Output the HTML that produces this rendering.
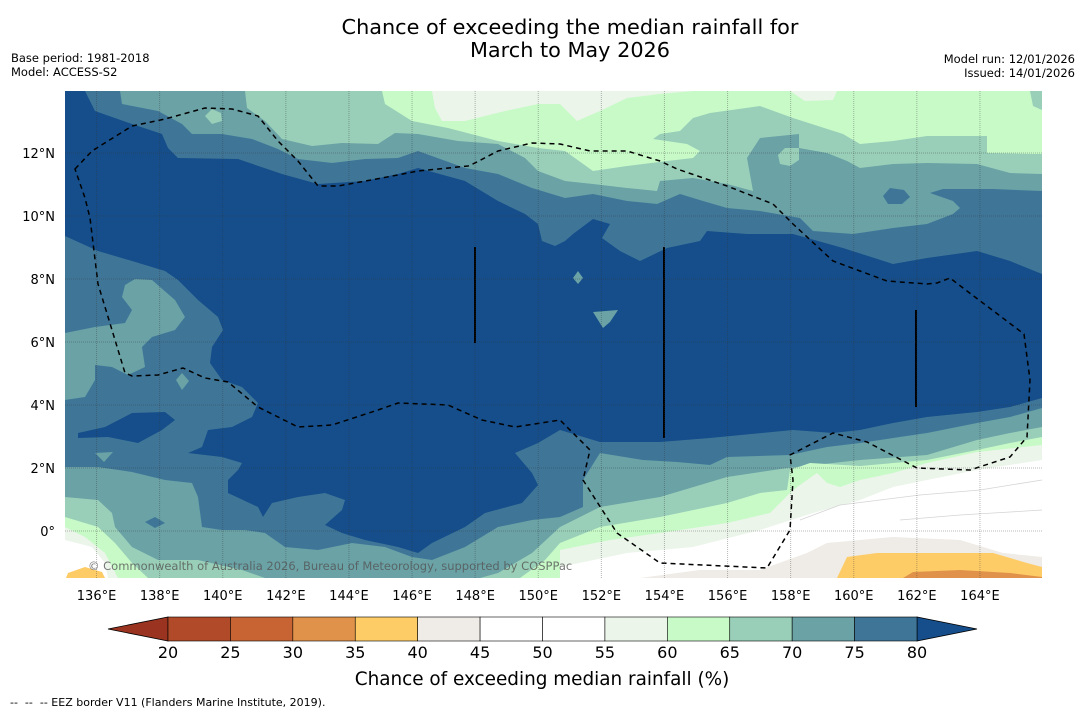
<!DOCTYPE html>
<html><head><meta charset="utf-8"><style>
html,body{margin:0;padding:0;background:#fff;}
svg{display:block;font-family:"DejaVu Sans","Liberation Sans",sans-serif;}
</style></head><body>
<svg id="s" width="1085" height="713" viewBox="0 0 1085 713">
<text x="570" y="34" text-anchor="middle" font-size="20.8">Chance of exceeding the median rainfall for</text>
<text x="570" y="57" text-anchor="middle" font-size="20.8">March to May 2026</text>
<text x="11" y="62" font-size="11.5">Base period: 1981-2018</text>
<text x="11" y="76" font-size="11.5">Model: ACCESS-S2</text>
<text x="1075" y="63" font-size="11.5" text-anchor="end">Model run: 12/01/2026</text>
<text x="1075" y="77" font-size="11.5" text-anchor="end">Issued: 14/01/2026</text>
<defs><clipPath id="mc"><rect x="65" y="91" width="977" height="487"/></clipPath></defs>
<g id="map" clip-path="url(#mc)"></g>
<g id="axes"></g>
<g id="cbar"></g>
<text x="542" y="685" text-anchor="middle" font-size="18.4">Chance of exceeding median rainfall (%)</text>
<text x="10" y="706" font-size="11" xml:space="preserve">--  --  -- EEZ border V11 (Flanders Marine Institute, 2019).</text>
</svg>
<script>
// colorbar data
const levels = [20,25,30,35,40,45,50,55,60,65,70,75,80];
const binColors = ['#b04a28','#c86434','#e0924a','#fecc66','#efebe6','#ffffff','#ffffff','#ebf5ea','#c8fac8','#99cfb8','#6aa2a6','#3f7698'];
const underColor = '#9a3420';
const overColor = '#154e8a';
// map axis ticks
const lonTicks = [136,138,140,142,144,146,148,150,152,154,156,158,160,162,164];
const latTicks = [12,10,8,6,4,2,0];
const latLabels = ['12°N','10°N','8°N','6°N','4°N','2°N','0°'];

const NS='http://www.w3.org/2000/svg';
function mk(tag,attrs,parent){const e=document.createElementNS(NS,tag);for(const k in attrs)e.setAttribute(k,attrs[k]);parent.appendChild(e);return e;}
const lonX = lon => 65 + (lon-135)*31.55;
const latY = lat => 531 - lat*31.5;
const cbX = v => 168 + (v-20)*(917-168)/60;

const map=document.getElementById('map');
const C={c80:'#154e8a',c75:'#3f7698',c70:'#6aa2a6',c65:'#99cfb8',c60:'#c8fac8',c55:'#ebf5ea',w:'#ffffff',c40:'#efebe6',c35:'#fecc66',c30:'#e0924a'};
// traced contour regions (map geometry)
const regions=[
['c80','65,91 1042,91 1042,578 65,578'],
['c75','85,91 95,111 132,124 162,134 168,148 178,158 238,159 282,174 318,184 365,181 398,174 418,168 465,181 498,201 525,214 538,224 542,241 555,246 565,241 573,234 593,219 610,224 602,238 620,251 640,261 667,248 700,241 707,231 747,234 793,234 843,248 893,264 927,258 977,251 1010,261 1042,274 1042,91'],
['c70','120,91 122,104 158,111 182,124 192,134 222,134 252,139 278,149 298,159 332,163 365,159 398,158 418,151 465,168 498,174 532,188 565,198 593,194 627,201 657,204 680,194 703,201 727,208 760,211 800,218 813,231 853,234 893,228 927,224 953,214 960,208 953,201 930,193 943,189 993,189 1042,191 1042,91'],
['c65','245,91 247,108 265,121 282,139 312,146 342,143 378,144 395,133 418,134 458,141 498,144 525,158 538,171 565,181 593,184 627,188 657,191 660,181 693,178 727,184 753,191 747,158 760,138 799,134 799,148 827,153 847,161 860,168 893,164 927,163 977,164 1010,173 1042,174 1042,91'],
['c60','382,91 385,104 412,121 448,128 498,141 538,148 565,151 593,171 627,166 667,161 693,158 700,151 687,144 653,139 660,134 680,131 693,118 710,113 760,106 793,118 843,134 860,144 893,141 927,136 987,136 987,153 1033,154 1042,154 1042,91'],
['c65','1030,91 1042,91 1042,110 1033,106'],
['c55','432,91 435,108 442,121 465,121 505,111 538,104 560,104 577,121 600,111 627,98 660,94 693,91'],
['c55','790,91 837,91 833,100 805,101'],
['c65','778,155 785,148 799,148 799,160 790,166 780,164'],
['c75','883,196 890,188 904,190 910,197 902,204 888,204'],
['c65','205,116 212,109 221,113 222,121 212,124'],
['c70','578,271 583,278 578,284 573,278'],
['c70','593,312 618,310 610,322 603,328'],
['c75','65,236 98,251 132,261 165,271 178,280 198,300 218,317 223,330 212,347 210,363 222,380 242,387 258,403 252,417 232,427 208,430 202,447 188,453 222,457 242,463 238,470 228,480 228,493 258,507 263,517 272,503 298,497 325,493 345,500 342,510 325,525 342,533 365,540 398,547 418,553 432,543 465,527 485,513 522,503 538,485 532,473 515,453 538,443 560,430 600,442 660,442 710,438 793,430 833,433 860,430 893,423 927,417 977,412 1010,407 1042,398 1042,578 65,578'],
['c80','78,433 105,427 132,413 165,412 175,420 162,430 138,443 108,437 78,438'],
['c70','65,333 95,327 125,323 132,310 122,297 125,285 135,279 152,280 175,300 185,317 175,330 152,337 142,347 145,367 128,375 112,367 95,365 95,380 85,397 65,400'],
['c70','176,380 182,373 189,381 182,390'],
['c70','95,453 113,452 104,462'],
['c70','65,467 98,467 132,472 165,480 192,483 198,497 202,527 222,530 245,530 265,533 285,547 318,550 352,543 385,547 412,557 432,560 465,547 498,527 532,520 560,517 583,507 583,480 600,453 643,460 677,462 710,465 727,457 790,455 827,447 860,443 893,438 927,433 977,423 1010,417 1042,408 1042,578 65,578'],
['c75','145,522 155,517 165,523 155,528'],
['c65','65,497 98,500 112,513 115,527 132,547 158,560 198,560 242,570 265,578 65,578'],
['c65','480,578 498,573 532,553 560,527 600,507 660,497 727,477 787,468 860,460 927,455 977,440 1010,433 1042,427 1042,578'],
['c60','65,517 98,527 115,543 132,563 148,578 65,578'],
['c60','520,578 545,560 560,543 600,527 660,517 727,503 760,493 787,490 790,470 810,463 860,466 927,460 977,450 1010,443 1042,437 1042,578'],
['c55','65,527 85,537 105,553 118,578 65,578'],
['c55','560,550 610,540 660,533 727,523 770,513 793,490 807,480 817,473 827,483 840,487 860,480 893,473 927,463 977,452 1042,445 1042,578 560,578'],
['w','65,540 92,547 105,563 108,578 65,578'],
['w','560,567 627,553 693,547 760,530 813,513 860,500 893,487 927,480 977,470 1042,460 1042,578 560,578'],
['c40','640,578 700,570 760,570 807,553 827,543 893,537 960,540 1003,553 1042,557 1042,578'],
['c35','68,573 85,567 102,572 105,578 66,578'],
['c35','837,578 847,557 877,553 927,553 993,553 1027,563 1042,567 1042,578'],
['c30','903,578 913,572 960,570 1010,573 1042,577 1042,578']
];
regions.forEach(([c,p])=>{const e=mk('polygon',{points:p,fill:C[c]},map);

});
// faint contour lines in the white area
['800,520 840,505 880,500 920,495 980,490 1042,480','900,520 960,515 1010,512 1042,510'].forEach(p=>{
const l=mk('polyline',{points:p,fill:'none',stroke:'#d4d4d4','stroke-width':0.8},map);

});
// EEZ border
const eez='75,169 92,151 132,126 165,119 205,108 232,109 258,116 278,141 298,161 318,186 338,186 382,178 418,171 468,166 475,163 498,151 532,143 560,144 590,151 627,151 660,161 677,169 727,186 773,204 793,224 833,261 860,271 887,281 927,284 937,283 950,278 967,291 1024,334 1030,380 1027,437 1010,457 970,470 917,468 867,442 833,433 790,455 793,480 790,530 767,568 660,563 617,533 583,480 590,450 560,420 515,427 482,420 448,405 398,403 378,410 332,425 298,427 258,407 228,382 205,378 183,368 158,375 132,376 125,373 112,330 98,284 90,218 85,198';
const ez=mk('polygon',{points:eez,fill:'none',stroke:'#000','stroke-width':1.5,'stroke-dasharray':'5,4'},map);


[[475,247,343],[664,247,438],[916,310,407]].forEach(([x,a,b])=>{const l=mk('line',{x1:x,x2:x,y1:a,y2:b,stroke:'#000','stroke-width':2},map);

});
const cp=mk('text',{x:88,y:570,'font-size':11.5,fill:'#555','fill-opacity':0.8},map);cp.textContent='© Commonwealth of Australia 2026, Bureau of Meteorology, supported by COSPPac';



// gridlines and labels
const ax=document.getElementById('axes');
lonTicks.forEach(lon=>{const x=lonX(lon);
const g=mk('line',{x1:x,x2:x,y1:91,y2:578,stroke:'#333','stroke-opacity':0.35,'stroke-width':1,'stroke-dasharray':'1,1'},ax);


const t=mk('text',{x:x,y:600,'text-anchor':'middle','font-size':13},ax);t.textContent=lon+'°E';

});
latTicks.forEach((lat,i)=>{const y=latY(lat);
const g=mk('line',{x1:65,x2:1042,y1:y,y2:y,stroke:'#333','stroke-opacity':0.35,'stroke-width':1,'stroke-dasharray':'1,1'},ax);


const t=mk('text',{x:55,y:y+5,'text-anchor':'end','font-size':13},ax);t.textContent=latLabels[i];

});

// colorbar
const cb=document.getElementById('cbar');
const y0=617,y1=641,ym=629;
const lt=mk('polygon',{points:`${cbX(levels[0])},${y0} ${cbX(levels[0])},${y1} 108,${ym}`,fill:underColor,stroke:'#000','stroke-width':0.8},cb);


const rt=mk('polygon',{points:`${cbX(levels[levels.length-1])},${y0} ${cbX(levels[levels.length-1])},${y1} 977,${ym}`,fill:overColor,stroke:'#000','stroke-width':0.8},cb);


binColors.forEach((c,i)=>{const a=cbX(levels[i]),b=cbX(levels[i+1]);
const r=mk('rect',{x:a,y:y0,width:b-a,height:y1-y0,fill:c,stroke:'#000','stroke-width':0.6},cb);

});
levels.forEach(v=>{const t=mk('text',{x:cbX(v),y:658,'text-anchor':'middle','font-size':16},cb);t.textContent=v;

});
</script>
</body></html>
